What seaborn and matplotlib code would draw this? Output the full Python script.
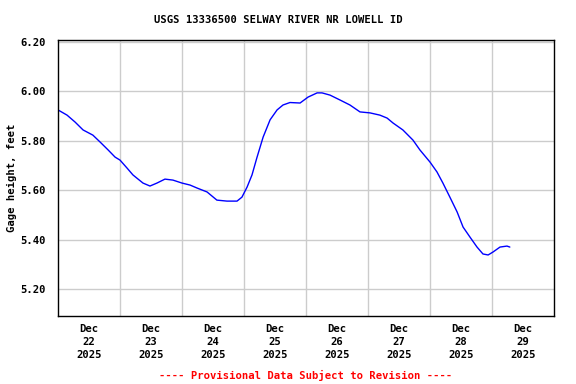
import matplotlib
matplotlib.use("Agg")
import matplotlib.pyplot as plt
import seaborn as sns
import pandas as pd

# hours after Dec 22 2025 00:00 and gage height (ft)
hours = [0.0, 3.5, 6.6, 9.7, 13.5, 16.3, 19.4, 22.1, 24.0, 26.7, 29.0, 31.0,
         32.9, 35.6, 38.3, 41.4, 44.5, 48.0, 51.1, 53.8, 57.7, 61.5, 65.4,
         69.3, 71.2, 73.2, 75.1, 77.0, 79.4, 82.1, 84.8, 87.1, 89.8, 93.7,
         96.8, 100.3, 102.2, 105.3, 109.2, 113.0, 116.9, 120.8, 124.6, 127.4,
         129.7, 133.5, 137.4, 140.1, 144.0, 146.7, 149.0, 151.7, 154.5, 156.8,
         159.5, 162.2, 164.5, 166.5, 168.4, 171.1, 173.8, 174.9]
gage = [5.925, 5.904, 5.876, 5.844, 5.823, 5.795, 5.763, 5.734, 5.722, 5.690,
        5.662, 5.645, 5.629, 5.617, 5.629, 5.645, 5.641, 5.629, 5.621, 5.609,
        5.593, 5.560, 5.556, 5.556, 5.572, 5.613, 5.662, 5.732, 5.815, 5.885,
        5.925, 5.945, 5.955, 5.953, 5.977, 5.994, 5.994, 5.985, 5.965, 5.945,
        5.917, 5.913, 5.904, 5.892, 5.872, 5.844, 5.803, 5.763, 5.714, 5.674,
        5.629, 5.572, 5.512, 5.451, 5.410, 5.370, 5.342, 5.338, 5.350, 5.370,
        5.374, 5.370]

day_labels = ["Dec\n22\n2025", "Dec\n23\n2025", "Dec\n24\n2025", "Dec\n25\n2025",
              "Dec\n26\n2025", "Dec\n27\n2025", "Dec\n28\n2025", "Dec\n29\n2025"]
y_ticks = [5.20, 5.40, 5.60, 5.80, 6.00, 6.20]

start = pd.Timestamp("2025-12-22")
df = pd.DataFrame({"time": start + pd.to_timedelta(hours, unit="h"), "gage": gage})

sns.set_style("white")
plt.rcParams["font.family"] = ["DejaVu Sans Mono"]
plt.rcParams["font.weight"] = "bold"
for key in ["text.color", "axes.labelcolor", "xtick.color", "ytick.color"]:
    plt.rcParams[key] = "black"

fig = plt.figure(figsize=(5.76, 3.84), dpi=100)
ax = fig.add_axes([0.1007, 0.1771, 0.8611, 0.7187])

sns.lineplot(data=df, x="time", y="gage", color="#0000ff", linewidth=1.0, ax=ax)

midnights = pd.date_range(start, periods=9, freq="D")
noons = midnights[:-1] + pd.Timedelta(hours=12)
ax.set_xlim(midnights[0], midnights[-1])
ax.set_xticks(midnights[1:-1])
ax.set_xticklabels([""] * 7)
ax.set_xticks(noons, minor=True)
ax.set_xticklabels(day_labels, minor=True, fontsize=7.6, fontweight="bold",
                   linespacing=1.35)
ax.tick_params(axis="x", which="both", length=0)
ax.tick_params(axis="x", which="minor", pad=6)

ax.set_ylim(5.091, 6.208)
ax.set_yticks(y_ticks)
ax.set_yticklabels([f"{v:.2f}" for v in y_ticks], fontsize=7.6, fontweight="bold")
ax.tick_params(axis="y", length=0, pad=9)

ax.grid(True, which="major", color="#cccccc", linewidth=1.0)
for s in ax.spines.values():
    s.set_color("black")
    s.set_linewidth(1.0)

ax.set_xlabel("")
ax.set_ylabel("Gage height, feet", fontsize=7.6, fontweight="bold", labelpad=2)
fig.text(0.483, 0.948, "USGS 13336500 SELWAY RIVER NR LOWELL ID", fontsize=7.6,
         fontweight="bold", ha="center", va="center")
fig.text(0.53, 0.0234, "---- Provisional Data Subject to Revision ----",
         color="red", fontsize=7.6, fontweight="bold", ha="center", va="center")

fig.savefig("out.png", dpi=100)
